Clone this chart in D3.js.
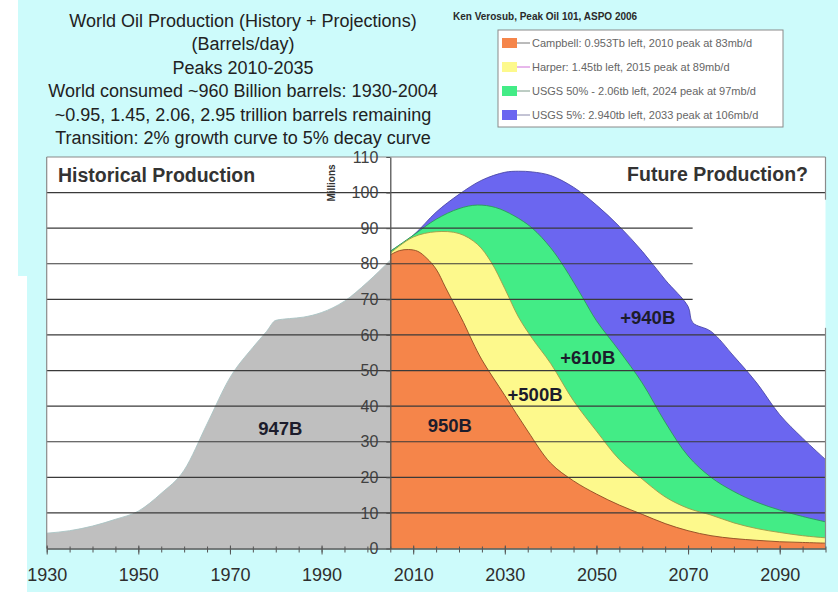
<!DOCTYPE html>
<html lang="en">
  <head>
    <meta charset="UTF-8" />
    <title>World Oil Production (History + Projections)</title>
    <script src="https://cdn.jsdelivr.net/npm/d3@7"></script>
    <style>
      body { margin: 0; background: #fff; }
      svg { display: block; font-family: Arial, "Liberation Sans", sans-serif; }
    </style>
  </head>

  <body>
    <div id="chart"></div>
    <script>
      // historical production, millions of barrels/day
      const histYears = [1930, 1935, 1940, 1945, 1950, 1955, 1960, 1965, 1970, 1975, 1978, 1980, 1983, 1986, 1990, 1995, 2000, 2005];
      const histValues = [4.3, 5, 6.3, 8.2, 10.5, 15.5, 22, 35, 48, 56.5, 61, 64.1, 64.6, 65, 66.3, 69.5, 74.8, 81];

      // projections (each curve is a full scenario, drawn back to front)
      const usgs5Years = [2005, 2010, 2015, 2020, 2025, 2030, 2033, 2036, 2040, 2045, 2050, 2055, 2060, 2065, 2070, 2071, 2075, 2080, 2085, 2090, 2095, 2100];
      const usgs5Values = [83.5, 88, 94.5, 99.5, 103.5, 105.7, 106, 105.8, 104.8, 101.5, 96.5, 90.5, 83.5, 75.5, 68, 63.5, 61, 54, 46.5, 37.6, 31, 25];

      const usgs50Years = [2005, 2010, 2015, 2020, 2024, 2028, 2032, 2036, 2040, 2043, 2047, 2050, 2055, 2060, 2065, 2070, 2075, 2080, 2085, 2090, 2095, 2100];
      const usgs50Values = [83.5, 88, 92.5, 95.5, 96.5, 95.8, 93.5, 90, 84.5, 79, 70.5, 64, 55.5, 46.5, 35.5, 26, 20, 16, 13, 10.8, 9, 7.5];

      const harperYears = [2005, 2010, 2015, 2020, 2024, 2027, 2030, 2033, 2036, 2040, 2045, 2050, 2055, 2060, 2065, 2070, 2075, 2080, 2085, 2090, 2095, 2100];
      const harperValues = [83, 87.5, 89, 88.5, 85.5, 80.5, 73, 65, 59, 52, 41.5, 33, 25, 19.5, 14.5, 11.3, 9.4, 7.2, 5.6, 4.5, 3.6, 3];

      const campbellYears = [2005, 2007, 2009, 2011, 2013, 2015, 2017, 2019, 2021, 2023, 2025, 2030, 2035, 2040, 2045, 2050, 2055, 2060, 2065, 2070, 2075, 2080, 2085, 2090, 2095, 2100];
      const campbellValues = [82.5, 83.7, 84, 83.5, 81.5, 78.5, 73.5, 68.5, 63.5, 58, 53, 43, 33, 24, 19, 15.3, 12.2, 9.6, 7, 5, 3.6, 2.8, 2.3, 1.9, 1.7, 1.5];

      // axis ticks
      const xLabelYears = [1930, 1950, 1970, 1990, 2010, 2030, 2050, 2070, 2090];
      const yTicks = [0, 10, 20, 30, 40, 50, 60, 70, 80, 90, 100, 110];
      const gridValues = [10, 20, 30, 40, 50, 60, 70, 80, 90, 100];
      const shortGrid = [70, 80, 90]; // these stop near 2071 in the picture

      // text
      const titleLines = [
        "World Oil Production (History + Projections)",
        "(Barrels/day)",
        "Peaks 2010-2035",
        "World consumed ~960 Billion barrels: 1930-2004",
        "~0.95, 1.45, 2.06, 2.95 trillion barrels remaining",
        "Transition: 2% growth curve to 5% decay curve",
      ];
      const legendLabels = [
        "Campbell: 0.953Tb left, 2010 peak at 83mb/d",
        "Harper: 1.45tb left, 2015 peak at 89mb/d",
        "USGS 50% - 2.06tb left, 2024 peak at 97mb/d",
        "USGS 5%: 2.940tb left, 2033 peak at 106mb/d",
      ];
      const noteLabels = ["947B", "950B", "+500B", "+610B", "+940B"];
      const noteYears = [1981, 2018, 2036.6, 2048.1, 2061.2];
      const noteValues = [31.8, 32.8, 41.5, 51.9, 63.2];

      const width = 838;
      const height = 592;

      const x = d3.scaleLinear().domain([1930, 2100]).range([46.7, 825.5]);
      const y = d3.scaleLinear().domain([0, 110]).range([548.5, 157]);

      const zip = (a, b) => a.map((v, i) => [v, b[i]]);

      const svg = d3
        .select("#chart")
        .append("svg")
        .attr("width", width)
        .attr("height", height);

      // cyan page (white strip on the left of the screenshot)
      svg.append("rect").attr("x", 18).attr("y", 0).attr("width", width - 18).attr("height", 276).attr("fill", "#cdfbfb");
      svg.append("rect").attr("x", 27).attr("y", 275).attr("width", width - 27).attr("height", height - 275).attr("fill", "#cdfbfb");

      // plot background
      svg
        .append("rect")
        .attr("x", x(1930))
        .attr("y", y(110))
        .attr("width", x(2100) - x(1930))
        .attr("height", y(0) - y(110))
        .attr("fill", "#fff");

      const histCurve = d3.curveMonotoneX;
      const futureCurve = d3.curveCatmullRom.alpha(0.5);

      const series = [
        { data: zip(histYears, histValues), fill: "#bfbfbf", edge: "#a9c4c4", curve: histCurve },
        { data: zip(usgs5Years, usgs5Values), fill: "#6b66f0", edge: "#4b47a8", curve: futureCurve },
        { data: zip(usgs50Years, usgs50Values), fill: "#43ec86", edge: "#2b9a58", curve: futureCurve },
        { data: zip(harperYears, harperValues), fill: "#fdf98c", edge: "#a09a48", curve: futureCurve },
        { data: zip(campbellYears, campbellValues), fill: "#f5854a", edge: "#8c4a22", curve: futureCurve },
      ];

      series.forEach((s) => {
        const area = d3
          .area()
          .x((d) => x(d[0]))
          .y0(y(0))
          .y1((d) => y(d[1]))
          .curve(s.curve);
        const line = d3
          .line()
          .x((d) => x(d[0]))
          .y((d) => y(d[1]))
          .curve(s.curve);
        svg.append("path").attr("d", area(s.data)).attr("fill", s.fill);
        svg
          .append("path")
          .attr("d", line(s.data))
          .attr("fill", "none")
          .attr("stroke", s.edge)
          .attr("stroke-width", 0.9);
      });

      // gridlines sit on top of the areas
      svg
        .selectAll("line.grid")
        .data(gridValues)
        .enter()
        .append("line")
        .attr("class", "grid")
        .attr("x1", x(1930))
        .attr("x2", (d) => (shortGrid.includes(d) ? x(2071) : x(2100)))
        .attr("y1", (d) => y(d))
        .attr("y2", (d) => y(d))
        .attr("stroke", "#3a3a3a")
        .attr("stroke-width", 1.2);

      // frame
      const frame = svg.append("g").attr("stroke", "#8a8a8a").attr("stroke-width", 1.2);
      frame.append("line").attr("x1", x(1930)).attr("x2", x(2100)).attr("y1", y(110)).attr("y2", y(110));
      frame.append("line").attr("x1", x(1930)).attr("x2", x(1930)).attr("y1", y(110)).attr("y2", y(0));
      frame.append("line").attr("x1", x(2100)).attr("x2", x(2100)).attr("y1", y(110)).attr("y2", y(98));
      frame.append("line").attr("x1", x(2100)).attr("x2", x(2100)).attr("y1", y(62)).attr("y2", y(0));

      // x axis: minor ticks every 5 years, labels every 20
      const xMinor = svg
        .append("g")
        .attr("transform", `translate(0,${y(0)})`)
        .call(d3.axisBottom(x).tickValues(d3.range(1930, 2101, 5)).tickSize(4).tickSizeOuter(0).tickFormat(""));
      xMinor.select(".domain").attr("stroke", "#555").attr("stroke-width", 1.5);
      xMinor.selectAll(".tick line").attr("stroke", "#555").attr("y1", -2);

      const xAxis = svg
        .append("g")
        .attr("transform", `translate(0,${y(0)})`)
        .call(d3.axisBottom(x).tickValues(xLabelYears).tickSize(6).tickSizeOuter(0).tickPadding(14).tickFormat(d3.format("d")));
      xAxis.select(".domain").remove();
      xAxis.selectAll(".tick line").attr("stroke", "#555").attr("y1", -3);
      xAxis
        .selectAll("text")
        .attr("font-family", "Arial, 'Liberation Sans', sans-serif")
        .attr("font-size", 18)
        .attr("fill", "#2e2e2e");

      // y axis crosses at 2005
      const yAxis = svg
        .append("g")
        .attr("transform", `translate(${x(2005)},0)`)
        .call(d3.axisLeft(y).tickValues(yTicks).tickSize(4).tickSizeOuter(0).tickPadding(8));
      yAxis.select(".domain").attr("stroke", "#555").attr("stroke-width", 1.3);
      yAxis.selectAll(".tick line").attr("stroke", "#555");
      yAxis
        .selectAll("text")
        .attr("font-family", "Arial, 'Liberation Sans', sans-serif")
        .attr("font-size", 16)
        .attr("fill", "#404040");

      svg
        .append("text")
        .attr("transform", "translate(335,183) rotate(-90)")
        .attr("text-anchor", "middle")
        .attr("font-size", 10)
        .attr("font-weight", "bold")
        .attr("fill", "#333")
        .text("Millions");

      // panel headers
      svg
        .append("text")
        .attr("x", 58)
        .attr("y", 182)
        .attr("font-size", 19.5)
        .attr("font-weight", "bold")
        .attr("fill", "#333")
        .text("Historical Production");
      svg
        .append("text")
        .attr("x", 808)
        .attr("y", 181)
        .attr("text-anchor", "end")
        .attr("font-size", 19.5)
        .attr("font-weight", "bold")
        .attr("fill", "#333")
        .text("Future Production?");

      // volume notes
      svg
        .selectAll("text.note")
        .data(noteLabels)
        .enter()
        .append("text")
        .attr("class", "note")
        .attr("x", (d, i) => x(noteYears[i]))
        .attr("y", (d, i) => y(noteValues[i]))
        .attr("text-anchor", "middle")
        .attr("font-size", 18.5)
        .attr("font-weight", "bold")
        .attr("fill", "#1c1c2c")
        .text((d) => d);

      // title block
      svg
        .selectAll("text.title")
        .data(titleLines)
        .enter()
        .append("text")
        .attr("class", "title")
        .attr("x", 243)
        .attr("y", (d, i) => 27 + i * 23.4)
        .attr("text-anchor", "middle")
        .attr("font-size", 18)
        .attr("fill", "#222")
        .text((d) => d);

      svg
        .append("text")
        .attr("x", 453)
        .attr("y", 20)
        .attr("font-size", 10)
        .attr("font-weight", "bold")
        .attr("fill", "#2a2a2a")
        .text("Ken Verosub, Peak Oil 101, ASPO 2006");

      // legend
      const legendColors = [series[4].fill, series[3].fill, series[2].fill, series[1].fill];
      const legendLines = ["#777", "#d070d8", "#7a9a88", "#8888aa"];
      const legend = svg.append("g");
      legend
        .append("rect")
        .attr("x", 498)
        .attr("y", 30)
        .attr("width", 285)
        .attr("height", 97)
        .attr("fill", "#fff")
        .attr("stroke", "#8a8a8a");
      const rows = legend
        .selectAll("g.row")
        .data(legendLabels)
        .enter()
        .append("g")
        .attr("class", "row")
        .attr("transform", (d, i) => `translate(502,${43 + i * 24})`);
      rows
        .append("line")
        .attr("x1", 10)
        .attr("x2", 28)
        .attr("stroke", (d, i) => legendLines[i])
        .attr("stroke-width", 1);
      rows
        .append("rect")
        .attr("x", 0)
        .attr("y", -5)
        .attr("width", 15)
        .attr("height", 10)
        .attr("fill", (d, i) => legendColors[i]);
      rows
        .append("text")
        .attr("x", 30)
        .attr("y", 4)
        .attr("font-size", 11)
        .attr("fill", "#666")
        .text((d) => d);
    </script>
  </body>
</html>
